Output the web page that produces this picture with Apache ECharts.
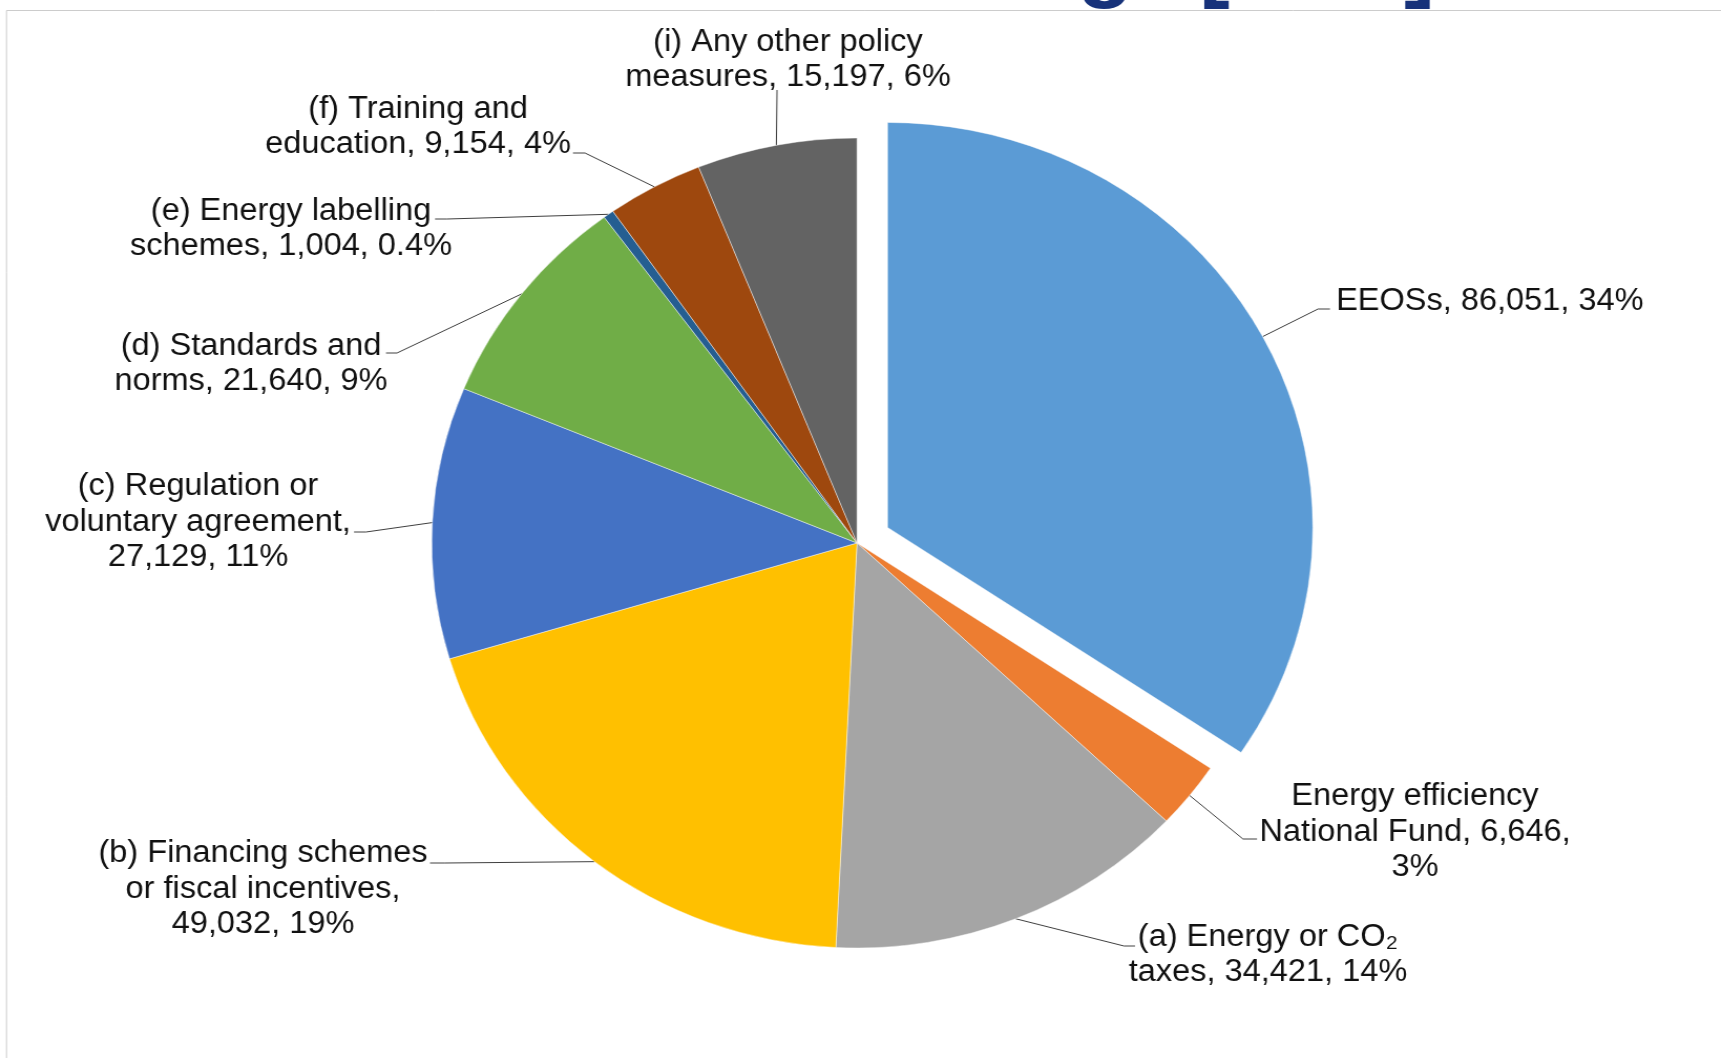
<!DOCTYPE html>
<html><head><meta charset="utf-8">
<script src="https://cdn.jsdelivr.net/npm/echarts@6/dist/echarts.min.js"></script>
<style>
html,body{margin:0;padding:0;background:#fff;overflow:hidden}
#wrap{width:1721px;height:1058px;overflow:hidden;position:relative;background:#fff}
#chart{width:1639px;height:1058px;transform:scaleX(1.05);transform-origin:0 0}
</style></head><body><div id="wrap"><div id="chart"></div></div>
<script>
// ---- data ----
const categories = [
  'EEOSs',
  'Energy efficiency\nNational Fund',
  '(a) Energy or CO\u2082\ntaxes',
  '(b) Financing schemes\nor fiscal incentives',
  '(c) Regulation or\nvoluntary agreement',
  '(d) Standards and\nnorms',
  '(e) Energy labelling\nschemes',
  '(f) Training and\neducation',
  '(i) Any other policy\nmeasures'
];
const values = [86051, 6646, 34421, 49032, 27129, 21640, 1004, 9154, 15197];
const percentLabels = ['34%', '3%', '14%', '19%', '11%', '9%', '0.4%', '4%', '6%'];
const breakAfter = ['none', 'value', 'none', 'name', 'name', 'none', 'none', 'none', 'none'];
const colors = ['#5B9BD5', '#ED7D31', '#A5A5A5', '#FFC000', '#4472C4', '#70AD47', '#255E91', '#9E480E', '#636363'];
const explodedIndex = 0;

// ---- layout (page pixels) ----
const SX = 1.05; // horizontal stretch of the original picture
const CX = 857, CY = 543, R = 405, EXPLODE = 33;
// [textX, textY, align, elbowX, elbowY, endX, endY]
const labelPos = [
  [1336, 301, 'left', 1318, 309, 1330, 309],
  [1415, 832, 'center', 1243, 839, 1257, 839],
  [1268, 955, 'center', 1124, 946, 1135, 946],
  [263, 889, 'center', 445, 863, 430, 863],
  [198, 522, 'center', 366, 532, 354, 532],
  [251, 364, 'center', 397, 353, 386, 353],
  [291, 229, 'center', 447, 219, 435, 219],
  [418, 127, 'center', 585, 153, 573, 153],
  [788, 60, 'center', 777, 92, 777, 90]
];

const fmt = v => v.toLocaleString('en-US');
function labelText(i) {
  const s1 = breakAfter[i] === 'name' ? ',\n' : ', ';
  const s2 = breakAfter[i] === 'value' ? ',\n' : ', ';
  return categories[i] + s1 + fmt(values[i]) + s2 + percentLabels[i];
}

// mid angle of the exploded slice (clockwise from 12 o'clock)
const total = values.reduce((a, b) => a + b, 0);
let before = 0;
for (let i = 0; i < explodedIndex; i++) before += values[i];
const midA = (before + values[explodedIndex] / 2) / total * 2 * Math.PI;
const offX = EXPLODE * Math.sin(midA), offY = -EXPLODE * Math.cos(midA);

const FONT = '"Liberation Sans", Arial, sans-serif';
const HIDDEN = 'rgba(0,0,0,0)';

function makeSeries(showExploded) {
  return {
    type: 'pie',
    z: 5,
    center: [showExploded ? CX / SX + offX : CX / SX, showExploded ? CY + offY : CY],
    radius: R,
    startAngle: 90,
    clockwise: true,
    avoidLabelOverlap: false,
    silent: true,
    emphasis: {disabled: true},
    label: {
      show: true,
      position: 'outside',
      formatter: p => labelText(p.dataIndex),
      fontFamily: FONT,
      fontSize: 31,
      lineHeight: 35.5,
      color: '#111111'
    },
    labelLine: {show: true, smooth: false, lineStyle: {color: '#404040', width: 1}},
    labelLayout: function (params) {
      const L = labelPos[params.dataIndex];
      const p0 = params.labelLinePoints ? params.labelLinePoints[0] : [L[3] / SX, L[4]];
      return {
        x: L[0] / SX,
        y: L[1],
        align: L[2],
        verticalAlign: 'middle',
        labelLinePoints: [p0, [L[3] / SX, L[4]], [L[5] / SX, L[6]]]
      };
    },
    data: categories.map((c, i) => {
      const visible = showExploded ? i === explodedIndex : i !== explodedIndex;
      return {
        name: c,
        value: values[i],
        itemStyle: visible
          ? {color: colors[i], borderColor: 'rgba(255,255,255,0.55)', borderWidth: 0.8}
          : {color: HIDDEN, borderWidth: 0},
        label: {show: visible},
        labelLine: {show: visible}
      };
    })
  };
}

const chart = echarts.init(document.getElementById('chart'), null, {renderer: 'canvas'});
chart.setOption({
  animation: false,
  backgroundColor: 'transparent',
  graphic: {
    elements: [
      {type: 'text', x: 1077 / SX, y: 11, silent: true,
       style: {text: 'g', font: 'bold 88px ' + FONT, fill: '#17327a', verticalAlign: 'bottom'}},
      {type: 'text', x: 1199 / SX, y: 11, silent: true,
       style: {text: '[', font: 'bold 88px ' + FONT, fill: '#17327a', verticalAlign: 'bottom'}},
      {type: 'text', x: 1404 / SX, y: 11, silent: true,
       style: {text: ']', font: 'bold 88px ' + FONT, fill: '#17327a', verticalAlign: 'bottom'}},
      {type: 'rect', silent: true, z2: 10,
       shape: {x: 6.5 / SX, y: 10.5, width: 3000, height: 3000},
       style: {fill: '#ffffff', stroke: '#cccccc', lineWidth: 1}}
    ]
  },
  series: [makeSeries(false), makeSeries(true)]
});
</script></body></html>
